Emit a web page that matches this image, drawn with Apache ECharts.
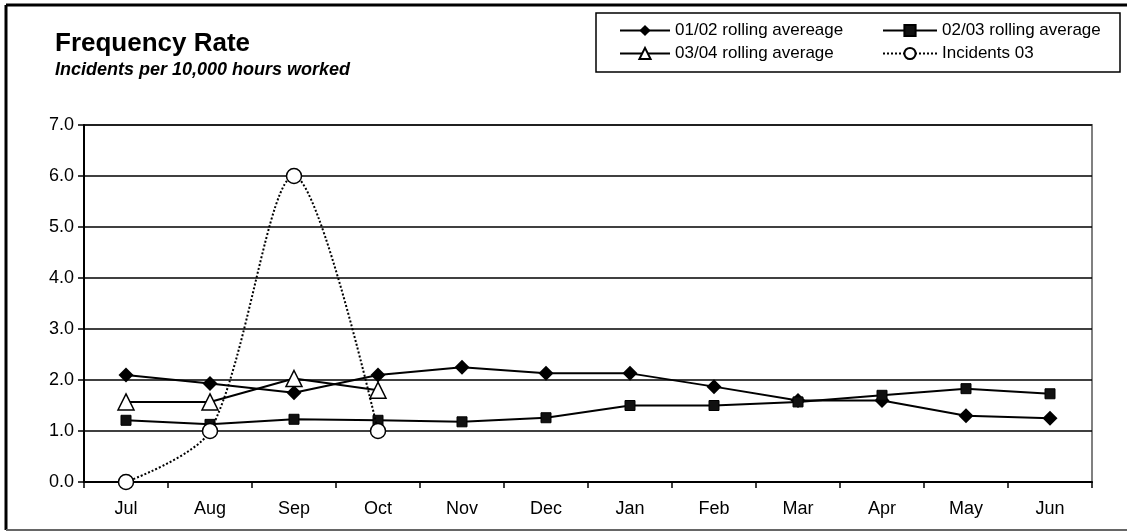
<!DOCTYPE html>
<html>
<head>
<meta charset="utf-8">
<script src="https://cdn.jsdelivr.net/npm/echarts@6/dist/echarts.min.js"></script>
<style>
  html, body { margin: 0; padding: 0; background: #fff; }
  #chart { width: 1127px; height: 531px; }
</style>
</head>
<body>
<div id="chart"></div>
<script>
// 数据
var months = ['Jul', 'Aug', 'Sep', 'Oct', 'Nov', 'Dec', 'Jan', 'Feb', 'Mar', 'Apr', 'May', 'Jun'];
var avg0102 = [2.1, 1.93, 1.75, 2.1, 2.25, 2.13, 2.13, 1.87, 1.6, 1.6, 1.3, 1.25];
var avg0203 = [1.21, 1.13, 1.23, 1.21, 1.18, 1.26, 1.5, 1.5, 1.57, 1.7, 1.83, 1.73];
var avg0304 = [1.57, 1.57, 2.03, 1.8];
var incidents03 = [0, 1, 6, 1];

var chart = echarts.init(document.getElementById('chart'));
var font = 'Liberation Sans, Arial, sans-serif';

var option = {
    animation: false,
    textStyle: { fontFamily: font, color: '#000' },
    title: {
        text: 'Frequency Rate',
        subtext: 'Incidents per 10,000 hours worked',
        left: 50,
        top: 26,
        itemGap: 4,
        textStyle: { fontFamily: font, fontSize: 26, fontWeight: 'bold', color: '#000' },
        subtextStyle: { fontFamily: font, fontSize: 18, fontWeight: 'bold', fontStyle: 'italic', color: '#000' }
    },
    // 两列图例，外框用 graphic 画
    legend: [{
        data: ['01/02 rolling avereage', '03/04 rolling average'],
        orient: 'vertical',
        left: 614,
        top: 17,
        itemGap: 6,
        itemWidth: 50,
        itemHeight: 14,
        textStyle: { fontFamily: font, fontSize: 17, color: '#000' }
    }, {
        data: ['02/03 rolling average', 'Incidents 03'],
        orient: 'vertical',
        left: 877,
        top: 17,
        itemGap: 6,
        itemWidth: 54,
        itemHeight: 14,
        textStyle: { fontFamily: font, fontSize: 17, color: '#000' }
    }],
    graphic: [
        { type: 'rect', shape: { x: 596, y: 13, width: 524, height: 59 }, style: { fill: 'none', stroke: '#000', lineWidth: 1.5 }, z: 10 },
        { type: 'line', shape: { x1: 6, y1: 5, x2: 6, y2: 530 }, style: { stroke: '#000', lineWidth: 3 } },
        { type: 'line', shape: { x1: 6, y1: 5, x2: 1127, y2: 5 }, style: { stroke: '#000', lineWidth: 3 } },
        { type: 'line', shape: { x1: 6, y1: 530, x2: 1127, y2: 530 }, style: { stroke: '#666', lineWidth: 2 } }
    ],
    grid: {
        left: 84,
        right: 35,
        top: 125,
        bottom: 49,
        show: true,
        borderColor: '#808080',
        borderWidth: 2
    },
    xAxis: {
        type: 'category',
        data: months,
        boundaryGap: true,
        axisLine: { lineStyle: { color: '#000', width: 2 } },
        axisTick: { show: true, length: 6, lineStyle: { color: '#000', width: 1.5 } },
        axisLabel: { fontFamily: font, fontSize: 18, color: '#000', margin: 18 }
    },
    yAxis: {
        type: 'value',
        min: 0,
        max: 7,
        interval: 1,
        axisLine: { show: true, lineStyle: { color: '#000', width: 2 } },
        axisTick: { show: true, length: 6, lineStyle: { color: '#000', width: 1.5 } },
        axisLabel: {
            fontFamily: font, fontSize: 18, color: '#000', margin: 10,
            formatter: function (v) { return v.toFixed(1); }
        },
        splitLine: { lineStyle: { color: '#000', width: 1.5 } }
    },
    series: [{
        name: '01/02 rolling avereage',
        type: 'line',
        data: avg0102,
        symbol: 'diamond',
        symbolSize: 15,
        itemStyle: { color: '#000' },
        lineStyle: { color: '#000', width: 2 }
    }, {
        name: '02/03 rolling average',
        type: 'line',
        data: avg0203,
        symbol: 'rect',
        symbolSize: 10,
        itemStyle: { color: '#111', borderColor: '#000', borderWidth: 1 },
        lineStyle: { color: '#000', width: 2 }
    }, {
        name: '03/04 rolling average',
        type: 'line',
        data: avg0304,
        symbol: 'triangle',
        symbolSize: 16,
        itemStyle: { color: '#fff', borderColor: '#000', borderWidth: 1.5 },
        lineStyle: { color: '#000', width: 2 }
    }, {
        name: 'Incidents 03',
        type: 'line',
        data: incidents03,
        smooth: 0.3,
        symbol: 'circle',
        symbolSize: 15,
        itemStyle: { color: '#fff', borderColor: '#000', borderWidth: 1.5 },
        lineStyle: { color: '#000', width: 2, type: 'dotted' },
        z: 5
    }]
};
chart.setOption(option);
</script>
</body>
</html>
